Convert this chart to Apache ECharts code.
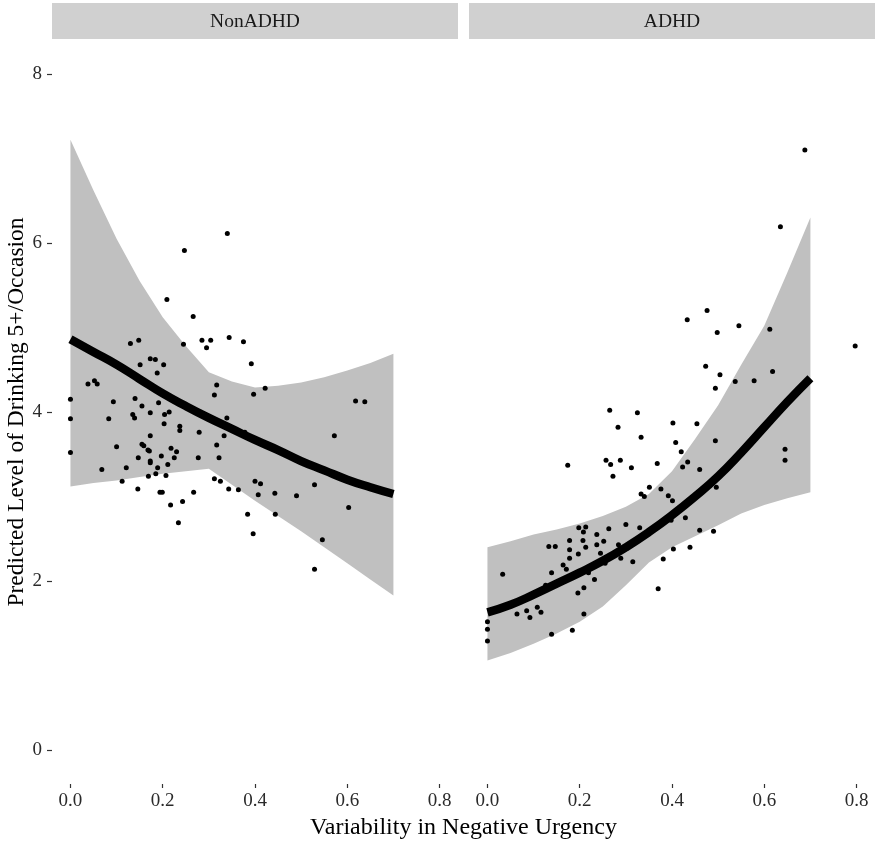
<!DOCTYPE html>
<html>
<head>
<meta charset="utf-8">
<script src="https://cdn.jsdelivr.net/npm/echarts@6/dist/echarts.min.js"></script>
<style>
html,body{margin:0;padding:0;background:#fff;}
#main{width:878px;height:845px;}
</style>
</head>
<body>
<div id="main"></div>
<script>
// ---------- DATA ----------
const panels = ['NonADHD', 'ADHD'];
const xTicks = [0, 0.2, 0.4, 0.6, 0.8];
const yTicks = [0, 2, 4, 6, 8];

const fitX = [0, 0.05, 0.1, 0.15, 0.2, 0.25, 0.3, 0.35, 0.4, 0.45, 0.5, 0.55, 0.6, 0.65, 0.7];

const nonAdhdFit   = [4.86, 4.71, 4.56, 4.39, 4.22, 4.07, 3.93, 3.80, 3.67, 3.55, 3.42, 3.31, 3.20, 3.11, 3.03];
const nonAdhdUpper = [7.22, 6.62, 6.05, 5.55, 5.12, 4.78, 4.47, 4.36, 4.29, 4.31, 4.35, 4.41, 4.49, 4.58, 4.69];
const nonAdhdLower = [3.12, 3.16, 3.19, 3.23, 3.27, 3.30, 3.33, 3.14, 2.95, 2.77, 2.59, 2.40, 2.21, 2.02, 1.83];

const adhdFit   = [1.63, 1.72, 1.84, 1.97, 2.10, 2.24, 2.40, 2.58, 2.78, 3.00, 3.24, 3.52, 3.82, 4.12, 4.40];
const adhdUpper = [2.40, 2.47, 2.55, 2.61, 2.68, 2.77, 2.88, 3.03, 3.30, 3.68, 4.08, 4.56, 5.02, 5.65, 6.30];
const adhdLower = [1.06, 1.15, 1.26, 1.38, 1.52, 1.70, 1.95, 2.22, 2.40, 2.53, 2.66, 2.80, 2.90, 2.98, 3.05];

const nonAdhdPoints = [
 [0.340,6.11],[0.247,5.91],[0.209,5.33],[0.266,5.13],[0.245,4.80],[0.285,4.85],[0.304,4.85],[0.295,4.76],
 [0.344,4.88],[0.375,4.83],[0.392,4.57],[0.422,4.28],[0.397,4.21],[0.317,4.32],[0.312,4.20],[0.339,3.93],
 [0.130,4.81],[0.148,4.85],[0.173,4.63],[0.184,4.62],[0.202,4.56],[0.151,4.56],[0.188,4.46],[0.038,4.33],
 [0.052,4.37],[0.058,4.33],[0.0,4.15],[0.0,3.92],[0.093,4.12],[0.140,4.16],[0.155,4.07],[0.191,4.11],
 [0.173,3.99],[0.204,3.97],[0.214,4.00],[0.135,3.97],[0.139,3.93],[0.083,3.92],[0.203,3.86],[0.237,3.83],
 [0.237,3.78],[0.279,3.76],[0.333,3.72],[0.378,3.76],[0.173,3.72],[0.0,3.52],[0.100,3.59],[0.155,3.62],
 [0.159,3.60],[0.168,3.55],[0.171,3.54],[0.218,3.57],[0.230,3.53],[0.317,3.61],[0.147,3.46],[0.197,3.48],
 [0.225,3.46],[0.277,3.46],[0.322,3.46],[0.173,3.42],[0.173,3.40],[0.211,3.38],[0.068,3.32],[0.121,3.34],
 [0.189,3.34],[0.185,3.27],[0.207,3.25],[0.169,3.24],[0.112,3.18],[0.312,3.21],[0.325,3.18],[0.400,3.18],
 [0.412,3.15],[0.407,3.02],[0.146,3.09],[0.194,3.05],[0.199,3.05],[0.267,3.05],[0.343,3.09],[0.364,3.08],
 [0.217,2.90],[0.243,2.94],[0.234,2.69],[0.384,2.79],[0.396,2.56],
 [0.618,4.13],[0.638,4.12],[0.572,3.72],[0.443,3.04],[0.490,3.01],[0.529,3.14],[0.603,2.87],[0.444,2.79],
 [0.546,2.49],[0.529,2.14]
];

const adhdPoints = [
 [0.265,4.02],[0.325,3.99],[0.402,3.87],[0.283,3.82],[0.333,3.70],[0.408,3.64],[0.174,3.37],[0.257,3.43],
 [0.267,3.38],[0.288,3.43],[0.312,3.34],[0.368,3.39],[0.272,3.24],[0.333,3.03],[0.340,3.00],[0.351,3.11],
 [0.376,3.09],[0.392,3.01],[0.401,2.95],[0.198,2.63],[0.213,2.64],[0.208,2.58],[0.263,2.62],[0.300,2.67],
 [0.330,2.63],[0.370,2.64],[0.398,2.72],[0.237,2.55],[0.252,2.47],[0.237,2.43],[0.207,2.48],[0.213,2.40],
 [0.133,2.41],[0.147,2.41],[0.178,2.48],[0.178,2.37],[0.197,2.32],[0.178,2.27],[0.284,2.43],[0.245,2.33],
 [0.289,2.27],[0.255,2.21],[0.315,2.23],[0.403,2.38],[0.381,2.26],[0.164,2.19],[0.171,2.14],[0.139,2.10],
 [0.219,2.10],[0.232,2.02],[0.033,2.08],[0.126,1.95],[0.209,1.92],[0.196,1.86],[0.370,1.91],[0.108,1.69],
 [0.116,1.63],[0.085,1.65],[0.064,1.61],[0.092,1.57],[0.209,1.61],[0.0,1.52],[0.0,1.43],[0.0,1.29],
 [0.139,1.37],[0.184,1.42],
 [0.494,4.28],[0.537,4.36],[0.578,4.37],[0.454,3.86],[0.420,3.53],[0.494,3.66],[0.434,3.41],[0.423,3.35],
 [0.460,3.32],[0.482,3.13],[0.496,3.11],[0.429,2.75],[0.460,2.60],[0.490,2.59],[0.439,2.40],[0.645,3.56],
 [0.645,3.43],
 [0.688,7.10],[0.635,6.19],[0.797,4.78],[0.476,5.20],[0.433,5.09],[0.545,5.02],[0.498,4.94],[0.612,4.98],
 [0.473,4.54],[0.504,4.44],[0.618,4.48]
];

const xTitle = 'Variability in Negative Urgency';
const yTitle = 'Predicted Level of Drinking 5+/Occasion';

// ---------- LAYOUT ----------
const FONT = '"Liberation Serif", "Times New Roman", serif';
const gridTop = 40, gridH = 744, gridW = 406;
const gridLefts = [52, 469];
const stripTop = 3, stripH = 36;

const chart = echarts.init(document.getElementById('main'), null, {renderer: 'canvas'});

function pair(xs, ys) { return xs.map((x, i) => [x, ys[i]]); }

const fits = [nonAdhdFit, adhdFit];
const uppers = [nonAdhdUpper, adhdUpper];
const lowers = [nonAdhdLower, adhdLower];
const pts = [nonAdhdPoints, adhdPoints];

const grids = gridLefts.map(l => ({left: l, top: gridTop, width: gridW, height: gridH, containLabel: false}));

const xAxes = gridLefts.map((l, i) => ({
  type: 'value', gridIndex: i, min: -0.04, max: 0.84, position: 'bottom',
  axisLine: {show: false, onZero: false},
  splitLine: {show: false},
  axisTick: {show: true, length: 4, lineStyle: {color: '#333', width: 1.2}, customValues: xTicks},
  axisLabel: {customValues: xTicks, formatter: v => v.toFixed(1), fontFamily: FONT, fontSize: 19, color: '#2a2a2a', margin: 8}
}));

const yAxes = gridLefts.map((l, i) => ({
  type: 'value', gridIndex: i, min: -0.4, max: 8.4, position: 'left',
  show: i === 0,
  axisLine: {show: false, onZero: false},
  splitLine: {show: false},
  axisTick: {show: true, length: 5, lineStyle: {color: '#333', width: 1.2}, customValues: yTicks},
  axisLabel: {customValues: yTicks, fontFamily: FONT, fontSize: 19, color: '#2a2a2a', margin: 10},
  name: i === 0 ? yTitle : '',
  nameLocation: 'middle', nameGap: 22, nameRotate: 90,
  nameTextStyle: {fontFamily: FONT, fontSize: 23.5, color: '#000'}
}));

const series = [];
[0, 1].forEach(i => {
  const up = pair(fitX, uppers[i]);
  const lo = pair(fitX, lowers[i]);
  series.push({
    type: 'custom', xAxisIndex: i, yAxisIndex: i, z: 1,
    data: [[0, 0]],
    silent: true,
    renderItem: (params, api) => {
      const poly = up.map(p => api.coord(p)).concat(lo.slice().reverse().map(p => api.coord(p)));
      return {type: 'polygon', shape: {points: poly}, style: {fill: '#c0c0c0'}};
    }
  });
  series.push({
    type: 'scatter', xAxisIndex: i, yAxisIndex: i, z: 2,
    data: pts[i], symbolSize: 5, itemStyle: {color: '#000', opacity: 1}, silent: true
  });
  series.push({
    type: 'line', xAxisIndex: i, yAxisIndex: i, z: 3,
    data: pair(fitX, fits[i]), smooth: true, showSymbol: false, symbol: 'none',
    lineStyle: {color: '#000', width: 8.5}, silent: true
  });
});

const graphic = [];
panels.forEach((name, i) => {
  graphic.push({
    type: 'rect', left: gridLefts[i], top: stripTop,
    shape: {width: gridW, height: stripH}, style: {fill: '#d0d0d0'}, silent: true
  });
  graphic.push({
    type: 'text', x: gridLefts[i] + gridW / 2, y: stripTop + stripH / 2 + 1,
    style: {text: name, fontFamily: FONT, fontSize: 19.5, fill: '#1a1a1a', align: 'center', verticalAlign: 'middle'},
    silent: true
  });
});
graphic.push({
  type: 'text', x: (gridLefts[0] + gridLefts[1] + gridW) / 2, y: 828,
  style: {text: xTitle, fontFamily: FONT, fontSize: 24, fill: '#000', align: 'center', verticalAlign: 'middle'},
  silent: true
});

chart.setOption({
  animation: false,
  backgroundColor: '#fff',
  grid: grids,
  xAxis: xAxes,
  yAxis: yAxes,
  series: series,
  graphic: graphic
});
</script>
</body>
</html>
